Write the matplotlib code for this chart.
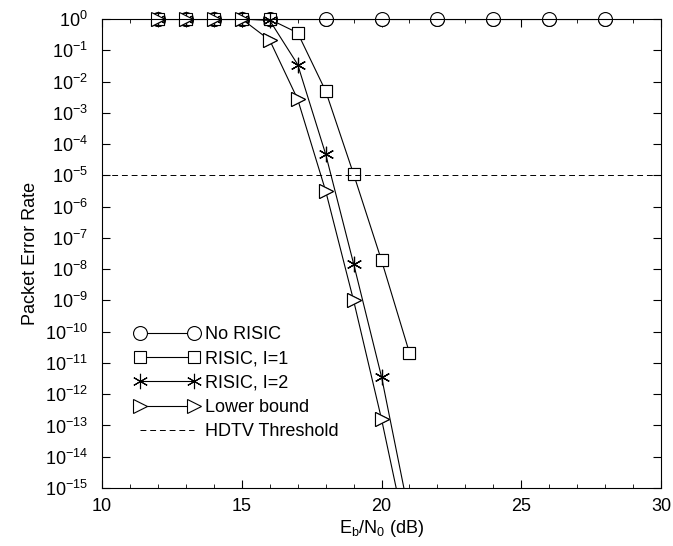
import numpy as np
import matplotlib
matplotlib.use('Agg')
import matplotlib.pyplot as plt
from matplotlib.ticker import LogLocator, MultipleLocator, NullLocator

plt.rcParams['font.family'] = ['Liberation Sans', 'DejaVu Sans']
plt.rcParams['mathtext.default'] = 'regular'

# data
snr_none = [12, 13, 14, 15, 16, 18, 20, 22, 24, 26, 28]
per_none = [1, 1, 1, 1, 1, 1, 1, 1, 1, 1, 1]

snr_i1 = [12, 13, 14, 15, 16, 17, 18, 19, 20, 21]
per_i1 = [1, 1, 1, 1, 0.98, 0.36, 5e-3, 1.1e-5, 1.9e-8, 2.1e-11]

snr_i2 = [12, 13, 14, 15, 16, 17, 18, 19, 20, 21]
per_i2 = [1, 1, 1, 1, 0.9, 0.035, 4.8e-5, 1.5e-8, 3.6e-12, 1.3e-16]

snr_lb = [12, 13, 14, 15, 16, 17, 18, 19, 20, 21]
per_lb = [1, 1, 1, 1, 0.21, 2.7e-3, 3.2e-6, 1e-9, 1.6e-13, 1e-17]

hdtv_threshold = 1e-5
ymin, ymax = 1e-15, 1

fig = plt.figure(figsize=(6.73, 5.46), dpi=100)
ax = fig.add_axes([0.1516, 0.1062, 0.8306, 0.859])

series = [
    (snr_none, per_none, dict(marker='o', ms=10, mfc='white'), 'No RISIC'),
    (snr_i1, per_i1, dict(marker='s', ms=9, mfc='white'), 'RISIC, I=1'),
    (snr_i2, per_i2, dict(marker=(6, 2, 0), ms=11), 'RISIC, I=2'),
    (snr_lb, per_lb, dict(marker='>', ms=10, mfc='white'), 'Lower bound'),
]
for x, y, mk, name in series:
    ax.semilogy(x, y, color='k', lw=0.8, mec='k', mew=0.8, label=name, **mk)
    # markers in range drawn unclipped so the ones on the top edge show fully
    xs = [a for a, b in zip(x, y) if b >= ymin]
    ys = [b for b in y if b >= ymin]
    ax.semilogy(xs, ys, ls='none', mec='k', mew=0.8, color='k', clip_on=False, **mk)

ax.axhline(hdtv_threshold, color='k', lw=0.7, ls=(0, (6, 4)), label='HDTV Threshold')

ax.set_xlim(10, 30)
ax.set_ylim(ymin, ymax)
ax.xaxis.set_major_locator(MultipleLocator(5))
ax.xaxis.set_minor_locator(MultipleLocator(1))
ax.yaxis.set_major_locator(LogLocator(base=10, numticks=30))
ax.yaxis.set_minor_locator(NullLocator())
ax.tick_params(which='both', direction='in', top=True, right=True, labelsize=13)
ax.tick_params(which='major', length=6)
ax.tick_params(which='minor', length=3)
ax.tick_params(axis='x', pad=7)
ax.tick_params(axis='y', pad=10)

ax.set_xlabel('E$_b$/N$_0$ (dB)', fontsize=13, labelpad=2)
ax.set_ylabel('Packet Error Rate', fontsize=13, labelpad=4)

leg = ax.legend(loc='upper left', bbox_to_anchor=(0.058, 0.345), frameon=False,
                fontsize=13, handlelength=3.6, numpoints=2, labelspacing=0.4,
                handletextpad=0.3, borderpad=0, borderaxespad=0)

plt.savefig('out.png', dpi=100)
